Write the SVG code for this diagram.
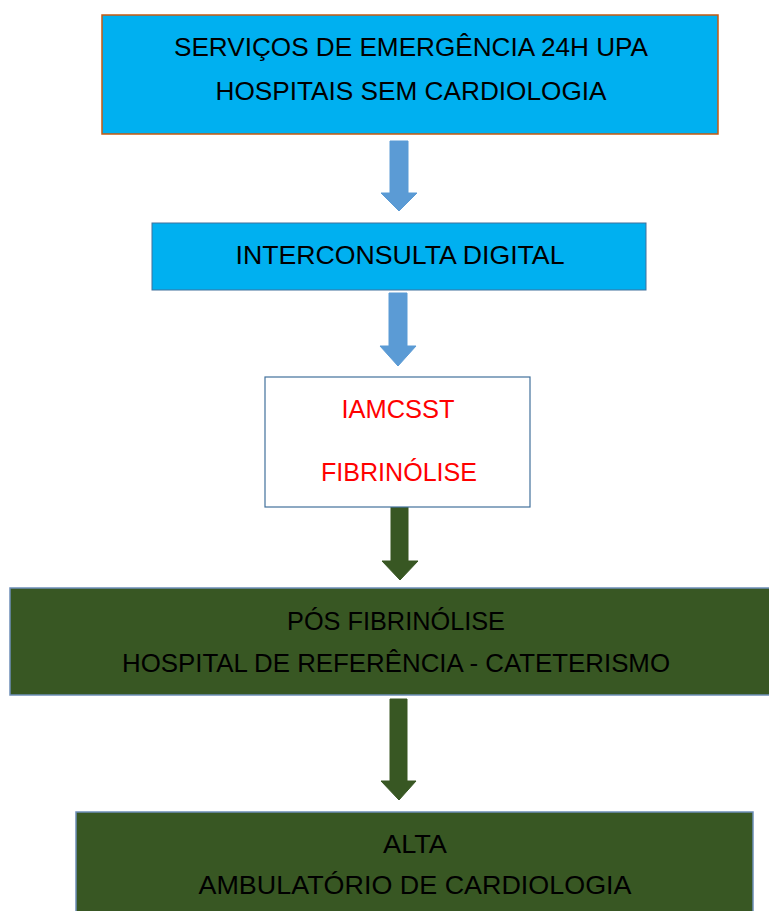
<svg xmlns="http://www.w3.org/2000/svg" width="769" height="911" viewBox="0 0 769 911">
<style>
.t{font-family:"Liberation Sans","DejaVu Sans",sans-serif;font-size:25.5px;fill:#000;text-anchor:middle}
.r{fill:#FF0000}
.blue{fill:#00B0F0}
.green{fill:#385723;stroke:#6D8FB8;stroke-width:1.5}
.ab{fill:#5B9BD5;stroke:#5B9BD5;stroke-width:1}
.ag{fill:#385723;stroke:#385723;stroke-width:1}
</style>
<rect width="769" height="911" fill="#fff"/>
<g id="connectors">
<path class="ab" d="M390,141 H408 V193 H417 L399,211 L381,193 H390 Z"/>
<path class="ab" d="M389,293 H407 V346 H416 L398,366 L380,346 H389 Z"/>
<path class="ag" d="M391,499 H408 V561 H418 L400,580 L382,561 H391 Z"/>
<path class="ag" d="M390,699 H407 V781 H416 L399,800 L381,781 H390 Z"/>
</g>
<g id="n1">
<rect class="blue" x="102" y="15" width="616" height="119" stroke="#C55A11" stroke-width="1.5"/>
<text class="t" x="411" y="56" textLength="474" lengthAdjust="spacingAndGlyphs">SERVIÇOS DE EMERGÊNCIA 24H UPA</text>
<text class="t" x="411" y="100" textLength="391" lengthAdjust="spacingAndGlyphs">HOSPITAIS SEM CARDIOLOGIA</text>
</g>
<g id="n2">
<rect class="blue" x="152" y="223" width="494" height="67" stroke="#41719C" stroke-width="1"/>
<text class="t" x="400" y="264" textLength="329" lengthAdjust="spacingAndGlyphs">INTERCONSULTA DIGITAL</text>
</g>
<g id="n3">
<rect x="265" y="377" width="265" height="130" fill="#fff" stroke="#41719C" stroke-width="1.2"/>
<text class="t r" x="398" y="418" textLength="113" lengthAdjust="spacingAndGlyphs">IAMCSST</text>
<text class="t r" x="399" y="481" textLength="156" lengthAdjust="spacingAndGlyphs">FIBRINÓLISE</text>
</g>
<g id="n4">
<rect class="green" x="10" y="588" width="770" height="107"/>
<text class="t" x="396" y="630" textLength="218" lengthAdjust="spacingAndGlyphs">PÓS FIBRINÓLISE</text>
<text class="t" x="396" y="672" textLength="548" lengthAdjust="spacingAndGlyphs">HOSPITAL DE REFERÊNCIA - CATETERISMO</text>
</g>
<g id="n5">
<rect class="green" x="76" y="812" width="677" height="110"/>
<text class="t" x="415" y="853" textLength="64" lengthAdjust="spacingAndGlyphs">ALTA</text>
<text class="t" x="415" y="894" textLength="433" lengthAdjust="spacingAndGlyphs">AMBULATÓRIO DE CARDIOLOGIA</text>
</g>
</svg>
